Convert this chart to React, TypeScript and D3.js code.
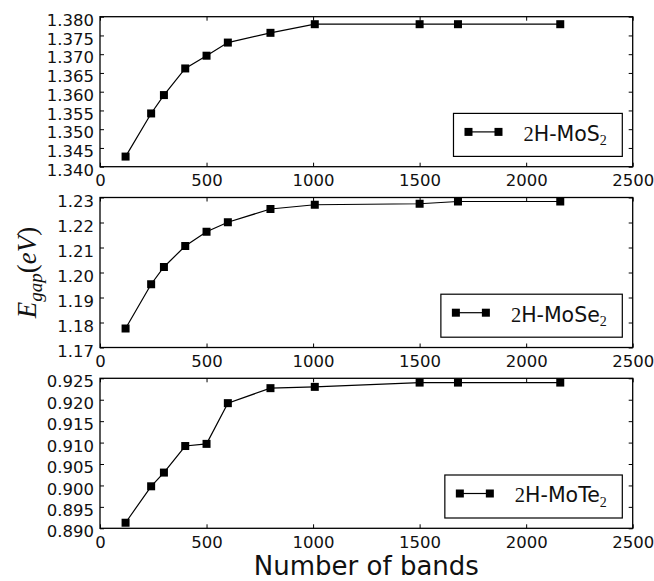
import React, { useEffect, useRef } from "react";
import * as d3 from "d3";

// Number of bands used in each convergence run
const bands = [120, 240, 300, 400, 500, 600, 800, 1008, 1500, 1680, 2160];

// Band gaps (eV) for each material
const gapMoS2 = [1.3427, 1.3542, 1.3591, 1.3662, 1.3696, 1.3731, 1.3757, 1.378, 1.378, 1.378, 1.378];
const gapMoSe2 = [1.1776, 1.1953, 1.2022, 1.2106, 1.2163, 1.2201, 1.2254, 1.2271, 1.2275, 1.2284, 1.2284];
const gapMoTe2 = [0.8913, 0.8998, 0.903, 0.9092, 0.9097, 0.9192, 0.9227, 0.923, 0.924, 0.924, 0.924];

// Axis ticks
const xTicks = [0, 500, 1000, 1500, 2000, 2500];
const mos2Ticks = [1.34, 1.345, 1.35, 1.355, 1.36, 1.365, 1.37, 1.375, 1.38];
const mose2Ticks = [1.17, 1.18, 1.19, 1.2, 1.21, 1.22, 1.23];
const mote2Ticks = [0.89, 0.895, 0.9, 0.905, 0.91, 0.915, 0.92, 0.925];

// Legend labels: "2H-Mo" + chalcogen, with subscript 2
const chalcogens = ["S", "Se", "Te"];

const W = 654;
const H = 581;
const LEFT = 100;
const RIGHT = 632.7;
const PANEL_TOPS = [16.7, 197.5, 378.3];
const PANEL_H = 150;
const SANS = "'DejaVu Sans', sans-serif";
const SERIF = "'Liberation Serif', 'DejaVu Serif', serif";

const panels = [
  { values: gapMoS2, ticks: mos2Ticks, fmt: ".3f", label: chalcogens[0] },
  { values: gapMoSe2, ticks: mose2Ticks, fmt: ".2f", label: chalcogens[1] },
  { values: gapMoTe2, ticks: mote2Ticks, fmt: ".3f", label: chalcogens[2] },
];

export default function App() {
  const ref = useRef<SVGSVGElement>(null);

  useEffect(() => {
    const svg = d3.select(ref.current);
    svg.selectAll("*").remove();

    const x = d3.scaleLinear().domain([0, 2500]).range([LEFT, RIGHT]);

    panels.forEach((p, i) => {
      const top = PANEL_TOPS[i];
      const bottom = top + PANEL_H;
      const ticks = p.ticks;
      const y = d3
        .scaleLinear()
        .domain([ticks[0], ticks[ticks.length - 1]])
        .range([bottom, top]);
      const g = svg.append("g");

      // Inward ticks on all four sides
      const styleAxis = (sel: any) => {
        sel.select(".domain").remove();
        sel.selectAll(".tick line").attr("stroke", "#000").attr("stroke-width", 1);
        sel
          .selectAll(".tick text")
          .attr("fill", "#111")
          .style("font-family", SANS)
          .style("font-size", "16.5px");
      };

      const left = g
        .append("g")
        .attr("transform", `translate(${LEFT},0)`)
        .call(
          d3
            .axisLeft(y)
            .tickValues(ticks)
            .tickFormat(d3.format(p.fmt) as any)
            .tickSizeInner(-4)
            .tickSizeOuter(0)
            .tickPadding(6)
        );
      styleAxis(left);
      left.selectAll(".tick text").attr("dy", "0.52em");

      const right = g
        .append("g")
        .attr("transform", `translate(${RIGHT},0)`)
        .call(d3.axisRight(y).tickValues(ticks).tickFormat(() => "").tickSizeInner(-4).tickSizeOuter(0));
      styleAxis(right);

      const bot = g
        .append("g")
        .attr("transform", `translate(0,${bottom})`)
        .call(
          d3
            .axisBottom(x)
            .tickValues(xTicks)
            .tickFormat(d3.format("d") as any)
            .tickSizeInner(-4)
            .tickSizeOuter(0)
            .tickPadding(8)
        );
      styleAxis(bot);

      const topAx = g
        .append("g")
        .attr("transform", `translate(0,${top})`)
        .call(d3.axisTop(x).tickValues(xTicks).tickFormat(() => "").tickSizeInner(-4).tickSizeOuter(0));
      styleAxis(topAx);

      // Data line and square markers
      const pts = bands.map((b, k) => [b, p.values[k]] as [number, number]);
      const line = d3
        .line<[number, number]>()
        .x((d) => x(d[0]))
        .y((d) => y(d[1]));
      g.append("path")
        .attr("d", line(pts))
        .attr("fill", "none")
        .attr("stroke", "#000")
        .attr("stroke-width", 1.2);
      const ms = 8;
      g.selectAll("rect.m")
        .data(pts)
        .join("rect")
        .attr("class", "m")
        .attr("x", (d) => x(d[0]) - ms / 2)
        .attr("y", (d) => y(d[1]) - ms / 2)
        .attr("width", ms)
        .attr("height", ms)
        .attr("fill", "#000");

      // Frame
      g.append("rect")
        .attr("x", LEFT)
        .attr("y", top)
        .attr("width", RIGHT - LEFT)
        .attr("height", PANEL_H)
        .attr("fill", "none")
        .attr("stroke", "#000")
        .attr("stroke-width", 1.3);

      // Legend
      const boxH = 43;
      const boxBottom = bottom - 10.3;
      const boxTop = boxBottom - boxH;
      const lg = g.append("g");
      const text = lg
        .append("text")
        .attr("y", boxTop + 27.4)
        .attr("fill", "#111")
        .style("font-size", "20.5px")
        .style("font-family", SANS);
      text.append("tspan").style("font-family", SERIF).text("2");
      text.append("tspan").text(`H-Mo${p.label}`);
      text
        .append("tspan")
        .style("font-family", SERIF)
        .style("font-size", "14px")
        .attr("dy", 4.5)
        .text("2");
      const tw = (text.node() as SVGTextElement).getComputedTextLength();
      const boxW = 15 + 30 + 25 + tw + 15.5;
      const boxLeft = RIGHT - 10.4 - boxW;
      text.attr("x", boxLeft + 15 + 30 + 25);
      lg.insert("rect", "text")
        .attr("x", boxLeft)
        .attr("y", boxTop)
        .attr("width", boxW)
        .attr("height", boxH)
        .attr("fill", "#fff")
        .attr("stroke", "#000")
        .attr("stroke-width", 1.2);
      const ly = boxTop + 18.5;
      const lx0 = boxLeft + 15;
      const lx1 = lx0 + 30;
      lg.append("line")
        .attr("x1", lx0)
        .attr("x2", lx1)
        .attr("y1", ly)
        .attr("y2", ly)
        .attr("stroke", "#000")
        .attr("stroke-width", 1.2);
      [lx0, lx1].forEach((cx) =>
        lg
          .append("rect")
          .attr("x", cx - ms / 2)
          .attr("y", ly - ms / 2)
          .attr("width", ms)
          .attr("height", ms)
          .attr("fill", "#000")
      );
    });

    // Shared axis titles
    const yl = svg
      .append("text")
      .attr("transform", `translate(36,${(PANEL_TOPS[0] + PANEL_TOPS[2] + PANEL_H) / 2}) rotate(-90)`)
      .attr("text-anchor", "middle")
      .attr("fill", "#111")
      .style("font-family", SERIF)
      .style("font-size", "27px");
    yl.append("tspan").style("font-style", "italic").text("E");
    yl.append("tspan").style("font-style", "italic").style("font-size", "19px").attr("dy", 6).text("gap");
    yl.append("tspan").attr("dy", -6).text("(");
    yl.append("tspan").style("font-style", "italic").text("eV");
    yl.append("tspan").text(")");

    svg
      .append("text")
      .attr("x", (LEFT + RIGHT) / 2)
      .attr("y", 575)
      .attr("text-anchor", "middle")
      .attr("fill", "#111")
      .style("font-family", SANS)
      .style("font-size", "26px")
      .text("Number of bands");
  }, []);

  return (
    <svg
      ref={ref}
      width={W}
      height={H}
      style={{ position: "absolute", left: 0, top: 0, background: "#fff" }}
    />
  );
}
